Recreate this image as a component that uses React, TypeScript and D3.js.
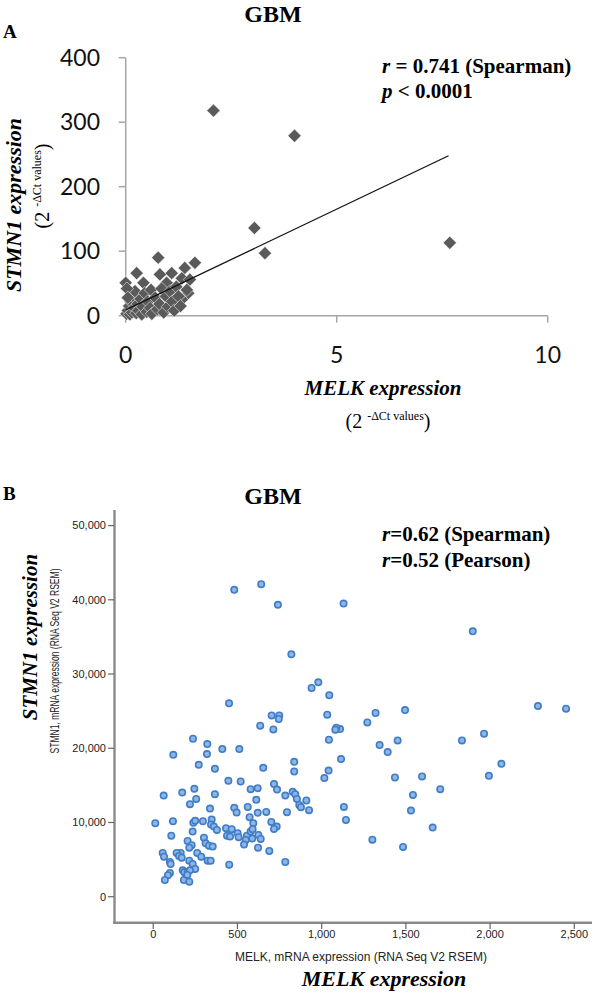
import React from "react";
import * as d3 from "d3";

// ---------- Panel A data (qPCR, 2^-ΔCt) ----------
const melkA = [
  2.08, 4.0, 3.05, 3.3, 7.68,
  0.77, 1.64, 0.26, 1.4, 0.81, 1.09, 0.42, 0.0, 0.97, 1.33, 1.52, 1.48, 1.33,
  0.02, 0.05, 0.08, 0.1, 0.12, 0.15, 0.18, 0.2, 0.22, 0.25, 0.28, 0.3, 0.35, 0.38,
  0.4, 0.45, 0.5, 0.52, 0.58, 0.6, 0.62, 0.7, 0.75, 0.8, 0.85, 0.9, 0.95, 1.0,
  1.05, 1.1, 1.15, 1.2, 1.25, 1.3, 1.45, 0.03, 0.05,
];
const stmn1A = [
  318, 279, 136, 97, 113,
  90, 82, 66, 74, 64, 66, 51, 51, 51, 58, 56, 35, 25,
  3, 8, 15, 2, 22, 5, 30, 12, 38, 4, 18, 8, 26, 2,
  14, 35, 6, 22, 12, 40, 3, 28, 10, 18, 42, 5, 30, 14,
  38, 22, 8, 45, 30, 15, 40, 42, 28,
];
const trendA_x = [0.0, 7.65];
const trendA_y = [9, 248];
const xTicksA = [0, 5, 10];
const yTicksA = [0, 100, 200, 300, 400];

// ---------- Panel B data (RNA Seq V2 RSEM) ----------
const melkB = [
  481, 641, 740, 820, 940, 980, 1045, 1130, 1897, 2284, 2451, 1320, 1495, 1271, 1109,
  1451, 1344, 1392, 1833, 1964, 1115, 2067, 1435, 1596, 1993, 1704, 1542, 1132, 1144,
  1530, 1659, 1301, 1483, 450, 703, 748, 745, 1033, 635, 713, 1087, 1081, 1043, 236,
  321, 319, 410, 511, 119, 837, 270, 366, 653, 837, 1041, 1016, 446, 519, 717, 735,
  244, 620, 578, 172, 62, 366, 784, 828, 843, 853, 909, 255, 612, 218, 561, 867, 877,
  925, 337, 481, 495, 620, 671, 794, 572, 12, 117, 238, 249, 295, 347, 343, 360, 378,
  594, 701, 733, 717, 432, 466, 501, 438, 456, 507, 556, 578, 590, 549, 624, 638, 588,
  539, 622, 689, 784, 451, 107, 234, 204, 301, 311, 331, 353, 228, 214, 163, 139, 153,
  56, 64, 261, 169, 285, 99, 103, 214, 234, 323, 341, 249, 175, 184, 204, 218, 99, 87,
  69, 182, 214, 202,
];
const stmn1B = [
  41350, 42100, 39320, 32660, 28120, 28880, 27130, 39500, 35760, 25690, 25330, 24750,
  25150, 23480, 22590, 21050, 20430, 19490, 21050, 21960, 18540, 17910, 16060, 16200,
  16290, 14490, 13720, 12100, 10350, 11610, 9310, 7690, 6710, 26050, 24430, 24430,
  23940, 24520, 23040, 22540, 22770, 22500, 21150, 21280, 20570, 19220, 19890, 19890,
  19120, 18180, 17770, 17230, 17370, 16870, 17000, 15980, 15610, 15520, 15170, 14440,
  14530, 14630, 14490, 14030, 13630, 13820, 13630, 14130, 13820, 13180, 12960, 13180,
  13050, 12470, 12100, 12370, 12060, 11660, 11880, 11970, 11340, 11300, 11430, 11390,
  10710, 9900, 10170, 9950, 10220, 10170, 10390, 9720, 9450, 9000, 9900, 10080, 9450,
  9140, 9230, 9100, 8560, 8230, 8100, 8020, 8230, 8770, 9100, 7650, 8330, 7790, 7830,
  7020, 6610, 6170, 4680, 4320, 8230, 8770, 7520, 7960, 7200, 6880, 6750, 6940, 6610,
  5900, 5900, 5490, 5900, 5400, 5900, 5260, 5400, 4680, 4410, 4860, 4410, 4860, 4860,
  3740, 3560, 3290, 3240, 3560, 3200, 2890, 2250, 2250, 2020, 2930,
];
const xTicksB = [0, 500, 1000, 1500, 2000, 2500];
const yTicksB = [0, 10000, 20000, 30000, 40000, 50000];

const serif = "'Liberation Serif', 'Times New Roman', serif";
const sansA = "Lato, 'Open Sans', sans-serif";
const arial = "'Liberation Sans', Arial, sans-serif";

export default function App() {
  // Panel A scales
  const xA = d3.scaleLinear().domain([0, 10]).range([125.7, 547.7]);
  const yA = d3.scaleLinear().domain([0, 400]).range([315.7, 57.7]);
  const diamond = d3.symbol().type(d3.symbolSquare).size(88)() as string;
  const lineA = d3
    .line<number>()
    .x((_, i) => xA(trendA_x[i]))
    .y((_, i) => yA(trendA_y[i]));

  // Panel B scales
  const xB = d3.scaleLinear().domain([-233, 2605]).range([114, 592]);
  const yB = d3.scaleLinear().domain([-3500, 52100]).range([922.7, 510]);
  const fmt = d3.format(",");
  const axisB = "#8a8a8a";
  const axisA = "#a6a6a6";

  return (
    <svg
      width={598}
      height={992}
      style={{ position: "absolute", left: 0, top: 0, background: "#fff" }}
    >
      <rect x={0} y={0} width={598} height={992} fill="#fff" />

      {/* ================= Panel A ================= */}
      <text x={3} y={38} fontFamily={serif} fontWeight="bold" fontSize={19}>A</text>
      <text x={273} y={22} fontFamily={serif} fontWeight="bold" fontSize={24} textAnchor="middle">GBM</text>

      {/* axes */}
      <line x1={xA(0)} x2={xA(0)} y1={yA(0)} y2={yA(400)} stroke={axisA} strokeWidth={1.5} />
      <line x1={xA(0)} x2={xA(10)} y1={yA(0)} y2={yA(0)} stroke={axisA} strokeWidth={1.5} />
      {yTicksA.map((t) => (
        <g key={"ya" + t}>
          <line x1={xA(0) - 7} x2={xA(0)} y1={yA(t)} y2={yA(t)} stroke={axisA} strokeWidth={1.5} />
          <text x={100} y={yA(t)} dy="0.36em" textAnchor="end" fontFamily={sansA} fontSize={23} fill="#111">
            {t}
          </text>
        </g>
      ))}
      {xTicksA.map((t) => (
        <g key={"xa" + t}>
          <line x1={xA(t)} x2={xA(t)} y1={yA(0)} y2={yA(0) + 7} stroke={axisA} strokeWidth={1.5} />
          <text x={xA(t)} y={363} textAnchor="middle" fontFamily={sansA} fontSize={23} fill="#111">
            {t}
          </text>
        </g>
      ))}

      {/* points */}
      {melkA.map((m, i) => (
        <path
          key={"pa" + i}
          d={diamond}
          transform={`translate(${xA(m)},${yA(stmn1A[i])}) rotate(45)`}
          fill="#5a5a5a"
          stroke="#ffffff"
          strokeWidth={0.5}
        />
      ))}
      <path d={lineA(trendA_x) || ""} fill="none" stroke="#111" strokeWidth={1.3} />

      {/* stats */}
      <text x={382} y={73} fontFamily={serif} fontWeight="bold" fontSize={21}>
        <tspan fontStyle="italic">r</tspan> = 0.741 (Spearman)
      </text>
      <text x={382} y={98} fontFamily={serif} fontWeight="bold" fontSize={21}>
        <tspan fontStyle="italic">p</tspan> &lt; 0.0001
      </text>

      {/* axis titles */}
      <text
        transform="translate(21,205) rotate(-90)"
        textAnchor="middle"
        fontFamily={serif}
        fontWeight="bold"
        fontStyle="italic"
        fontSize={22}
      >
        STMN1 expression
      </text>
      <text transform="translate(49,186) rotate(-90)" textAnchor="middle" fontFamily={serif} fontSize={20}>
        (2 <tspan fontSize={12} dy={-8}>-ΔCt values</tspan>
        <tspan dy={8}>)</tspan>
      </text>
      <text x={383} y={395} textAnchor="middle" fontFamily={serif} fontWeight="bold" fontStyle="italic" fontSize={21}>
        MELK expression
      </text>
      <text x={388} y={428} textAnchor="middle" fontFamily={serif} fontSize={20}>
        (2 <tspan fontSize={12} dy={-8}>-ΔCt values</tspan>
        <tspan dy={8}>)</tspan>
      </text>

      {/* ================= Panel B ================= */}
      <text x={3} y={500} fontFamily={serif} fontWeight="bold" fontSize={19}>B</text>
      <text x={273} y={504} fontFamily={serif} fontWeight="bold" fontSize={24} textAnchor="middle">GBM</text>

      <line x1={114.5} x2={114.5} y1={510} y2={923.5} stroke={axisB} strokeWidth={2.4} />
      <line x1={113.3} x2={592} y1={922.7} y2={922.7} stroke={axisB} strokeWidth={2.4} />
      {yTicksB.map((t) => (
        <g key={"yb" + t}>
          <line x1={108} x2={114} y1={yB(t)} y2={yB(t)} stroke="#666" strokeWidth={1.2} />
          <text x={106} y={yB(t)} dy="0.35em" textAnchor="end" fontFamily={arial} fontSize={11} fill="#222">
            {fmt(t)}
          </text>
        </g>
      ))}
      {xTicksB.map((t) => (
        <g key={"xb" + t}>
          <line x1={xB(t)} x2={xB(t)} y1={923} y2={929} stroke="#666" strokeWidth={1.2} />
          <text x={xB(t)} y={938} textAnchor="middle" fontFamily={arial} fontSize={11} fill="#222">
            {fmt(t)}
          </text>
        </g>
      ))}

      {melkB.map((m, i) => (
        <circle
          key={"pb" + i}
          cx={xB(m)}
          cy={yB(stmn1B[i])}
          r={3.2}
          fill="#8fb6e3"
          stroke="#3f7dc8"
          strokeWidth={1.6}
        />
      ))}

      <text x={382} y={541} fontFamily={serif} fontWeight="bold" fontSize={21}>
        <tspan fontStyle="italic">r</tspan>=0.62 (Spearman)
      </text>
      <text x={382} y={567} fontFamily={serif} fontWeight="bold" fontSize={21}>
        <tspan fontStyle="italic">r</tspan>=0.52 (Pearson)
      </text>

      <text
        transform="translate(37,637) rotate(-90)"
        textAnchor="middle"
        fontFamily={serif}
        fontWeight="bold"
        fontStyle="italic"
        fontSize={21}
      >
        STMN1 expression
      </text>
      <text
        transform="translate(59,661) rotate(-90)"
        textAnchor="middle"
        fontFamily={arial}
        fontSize={12}
        fill="#222"
        textLength={185}
        lengthAdjust="spacingAndGlyphs"
      >
        STMN1, mRNA expression (RNA Seq V2 RSEM)
      </text>
      <text x={361} y={961} textAnchor="middle" fontFamily={arial} fontSize={12} fill="#222">
        MELK, mRNA expression (RNA Seq V2 RSEM)
      </text>
      <text x={384} y={986} textAnchor="middle" fontFamily={serif} fontWeight="bold" fontStyle="italic" fontSize={22}>
        MELK expression
      </text>
    </svg>
  );
}
